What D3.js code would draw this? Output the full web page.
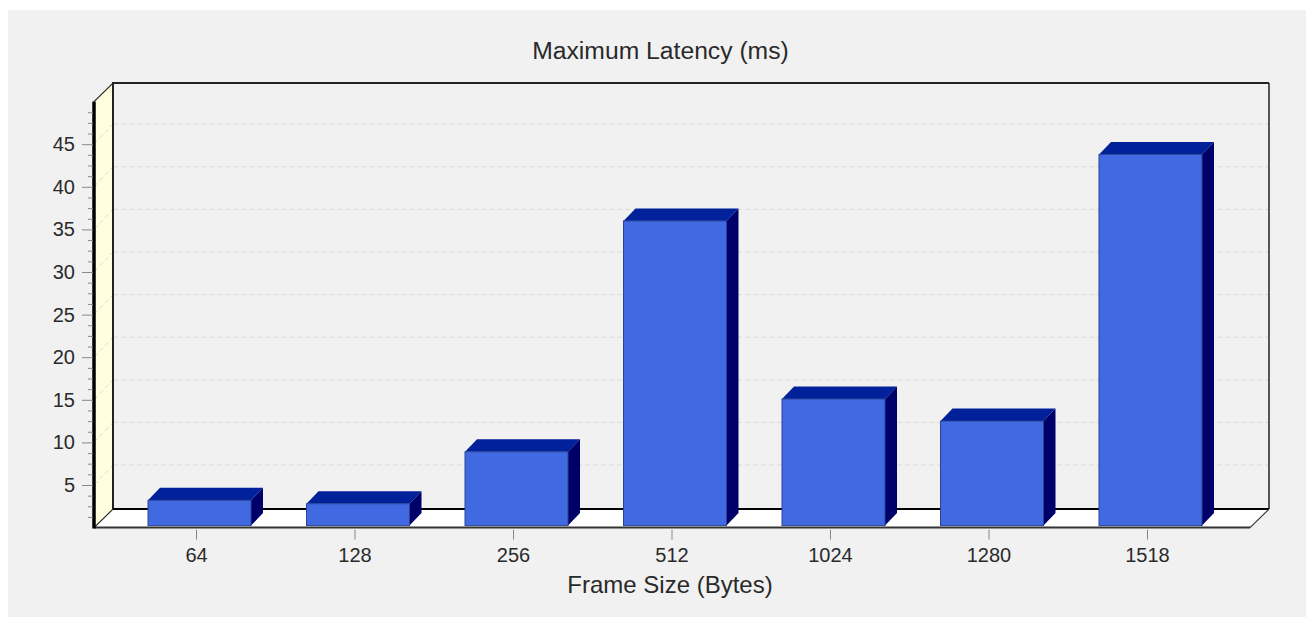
<!DOCTYPE html>
<html>
<head>
<meta charset="utf-8">
<script src="https://cdn.jsdelivr.net/npm/d3@7"></script>
<style>
  html, body { margin: 0; padding: 0; background: #fff; }
  svg { display: block; }
  text { font-family: "Liberation Sans", Arial, sans-serif; fill: #2a2a2a; }
</style>
</head>
<body>
<div id="chart"></div>
<script>
// values
const frameSizes = ["64", "128", "256", "512", "1024", "1280", "1518"];
const maxLatency = [3.2, 2.8, 8.9, 36.0, 15.1, 12.5, 43.8];
const yMajorTicks = [5, 10, 15, 20, 25, 30, 35, 40, 45];
const yMinorTicks = d3.range(1, 40).map(i => i * 1.25).filter(v => v % 5 !== 0);

const width = 1306;
const height = 618;
const plot = { left: 94, right: 1250, top: 101.6, bottom: 527.6 };
const depth = { x: 19, y: 18.5 };
const barDepth = { x: 12, y: 12.5 };
const barWidth = 103;
const barBase = 2;     // bars sit just above the front edge of the floor
const barShift = 3.5;  // bar centre is a bit right of its tick

const svg = d3.select("#chart").append("svg")
  .attr("width", width)
  .attr("height", height);

svg.append("rect")
  .attr("x", 8).attr("y", 10)
  .attr("width", width - 8).attr("height", 607)
  .attr("fill", "#f1f1f1");

const y = d3.scaleLinear().domain([0, 50]).range([plot.bottom, plot.top]);
const x = d3.scalePoint().domain(frameSizes).range([196, 1147]);

const pts = a => a.map(p => p.join(",")).join(" ");
const backLeft = plot.left + depth.x;
const backRight = plot.right + depth.x;
const backBottom = plot.bottom - depth.y;
const backTop = plot.top - depth.y;

// floor and left wall
svg.append("polygon")
  .attr("points", pts([[plot.left, plot.bottom], [backLeft, backBottom], [backRight, backBottom], [plot.right, plot.bottom]]))
  .attr("fill", "#fff");
svg.append("polygon")
  .attr("points", pts([[plot.left, plot.bottom], [backLeft, backBottom], [backLeft, backTop], [plot.left, plot.top]]))
  .attr("fill", "#ffffe0");

// grid, on the wall and on the back plane
const grid = svg.append("g")
  .attr("stroke", "#d9d9d9")
  .attr("stroke-width", 1)
  .attr("stroke-dasharray", "5,3")
  .attr("fill", "none");
grid.selectAll("line.back")
  .data(yMajorTicks)
  .enter()
  .append("line")
  .attr("class", "back")
  .attr("x1", backLeft)
  .attr("x2", backRight)
  .attr("y1", d => y(d) - depth.y - 1.5)
  .attr("y2", d => y(d) - depth.y - 1.5);
grid.selectAll("line.wall")
  .data(yMajorTicks)
  .enter()
  .append("line")
  .attr("class", "wall")
  .attr("x1", plot.left)
  .attr("x2", backLeft)
  .attr("y1", d => y(d))
  .attr("y2", d => y(d) - depth.y - 1.5);

// frame of the back plane
svg.append("path")
  .attr("d", `M${backLeft},${backBottom}V${backTop}H${backRight}`)
  .attr("fill", "none").attr("stroke", "#222").attr("stroke-width", 2);
svg.append("path")
  .attr("d", `M${backRight},${backTop}V${backBottom}`)
  .attr("stroke", "#222").attr("stroke-width", 1.5);
svg.append("path")
  .attr("d", `M${backLeft},${backBottom}H${backRight}`)
  .attr("stroke", "#000").attr("stroke-width", 2);
svg.append("path")
  .attr("d", `M${plot.left},${plot.top}L${backLeft},${backTop}`)
  .attr("stroke", "#222").attr("stroke-width", 1.2);
svg.append("path")
  .attr("d", `M${plot.left},${plot.bottom}L${backLeft},${backBottom}`)
  .attr("stroke", "#222").attr("stroke-width", 1.2);
svg.append("path")
  .attr("d", `M${plot.right},${plot.bottom}L${backRight},${backBottom}`)
  .attr("stroke", "#333").attr("stroke-width", 1.2);

// bars
const bars = svg.selectAll("g.bar")
  .data(frameSizes.map((f, i) => ({ f: f, v: maxLatency[i] })))
  .enter()
  .append("g")
  .attr("class", "bar");

const barX = d => x(d.f) + barShift - barWidth / 2;
const barTop = d => y(d.v);
const barBottom = plot.bottom - barBase;

bars.append("polygon")
  .attr("points", d => pts([
    [barX(d), barTop(d)],
    [barX(d) + barDepth.x, barTop(d) - barDepth.y],
    [barX(d) + barWidth + barDepth.x, barTop(d) - barDepth.y],
    [barX(d) + barWidth, barTop(d)]
  ]))
  .attr("fill", "#00219a");
bars.append("polygon")
  .attr("points", d => pts([
    [barX(d) + barWidth, barTop(d)],
    [barX(d) + barWidth + barDepth.x, barTop(d) - barDepth.y],
    [barX(d) + barWidth + barDepth.x, barBottom - barDepth.y],
    [barX(d) + barWidth, barBottom]
  ]))
  .attr("fill", "#00006b");
bars.append("rect")
  .attr("x", barX)
  .attr("y", barTop)
  .attr("width", barWidth)
  .attr("height", d => barBottom - barTop(d))
  .attr("fill", "#4169e1")
  .attr("stroke", "#2a4494")
  .attr("stroke-width", 1);

// front edges
svg.append("path")
  .attr("d", `M${plot.left},${plot.bottom}H${plot.right}`)
  .attr("stroke", "#333").attr("stroke-width", 2);
svg.append("path")
  .attr("d", `M${plot.left},${plot.top}V${plot.bottom + 1}`)
  .attr("stroke", "#000").attr("stroke-width", 3.5);

// axes
const styleAxis = g => {
  g.select(".domain").remove();
  g.selectAll(".tick line").attr("stroke", "#888");
  g.selectAll(".tick text")
    .attr("font-family", '"Liberation Sans", Arial, sans-serif')
    .attr("font-size", 20)
    .attr("fill", "#2a2a2a");
};

svg.append("g")
  .attr("transform", `translate(${plot.left - 1},0)`)
  .call(d3.axisLeft(y).tickValues(yMinorTicks).tickSize(5).tickFormat(""))
  .call(styleAxis);
svg.append("g")
  .attr("transform", `translate(${plot.left - 1},0)`)
  .call(d3.axisLeft(y).tickValues(yMajorTicks).tickSize(11).tickPadding(7))
  .call(styleAxis);
svg.append("g")
  .attr("transform", `translate(0,${plot.bottom + 2})`)
  .call(d3.axisBottom(x).tickSize(10).tickPadding(8.5))
  .call(styleAxis);

svg.append("text")
  .attr("x", 660.5)
  .attr("y", 58.5)
  .attr("text-anchor", "middle")
  .attr("font-size", 24.7)
  .text("Maximum Latency (ms)");

svg.append("text")
  .attr("x", 670)
  .attr("y", 593)
  .attr("text-anchor", "middle")
  .attr("font-size", 24)
  .text("Frame Size (Bytes)");
</script>
</body>
</html>
